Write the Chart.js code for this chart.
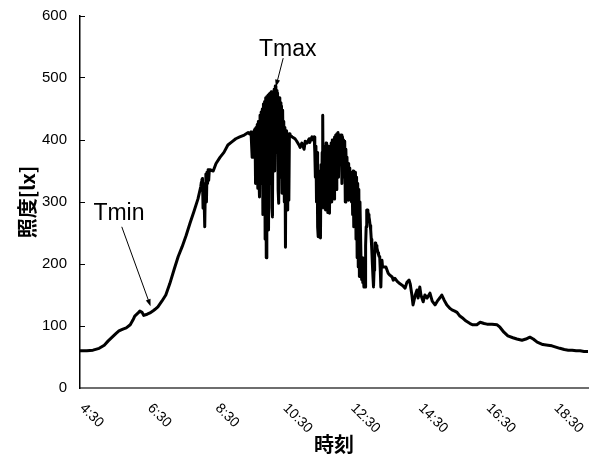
<!DOCTYPE html>
<html><head><meta charset="utf-8">
<script src="https://cdn.jsdelivr.net/npm/chart.js@4"></script>
<style>html,body{margin:0;padding:0;background:#fff}</style>
</head><body>
<canvas id="c" width="593" height="456"></canvas>
<script>
// time of day in minutes since midnight
const times = [
  270,282,293,304,313,320,327,334,339,346,352,359,364,367,373,376,380,383,389,394,399,403,408,415,422,429,437,444,451,458,465,472,479,
  484,485,486,487,488,489,490,491,492,493,494,495,496,497,498,499,500,
  506,511,518,525,532,539,546,553,561,568,570,573,575,576,577,578,579,
  580,581,582,583,584,585,586,587,588,589,
  590,591,592,593,594,595,596,597,598,599,
  600,601,602,603,604,605,606,607,608,609,
  610,611,612,613,614,615,616,617,618,619,
  620,621,622,623,624,625,626,627,628,629,
  630,631,632,633,634,635,636,637,638,639,
  640,641,642,
  646,651,654,658,660,663,667,669,672,676,677,681,683,685,686,
  687,688,689,690,691,692,693,694,695,696,
  697,698,699,700,701,702,703,704,705,706,
  707,708,709,710,711,712,713,714,715,716,
  717,718,719,720,721,722,723,724,725,726,
  727,728,729,730,731,732,733,734,735,736,
  737,738,739,740,741,742,743,744,745,746,
  747,748,749,750,751,752,753,754,755,756,
  757,758,759,760,761,762,763,764,765,766,
  767,768,769,770,771,772,773,774,775,776,
  777,778,779,780,781,782,783,784,785,786,
  787,788,789,790,791,792,793,794,795,796,
  797,798,799,800,801,802,803,804,805,806,
  812,816,819,823,825,828,832,837,842,846,849,853,855,858,860,864,867,869,872,874,
  878,881,885,890,894,899,903,908,911,915,920,926,929,934,938,943,949,954,961,966,
  973,979,986,991,1000,1009,1014,1021,1028,1037,1044,1053,1060,1067,1073,1080,1085,1090,1099,1106,
  1113,1120,1128,1135,1142,1149,1156,1163,1170
];
// illuminance [lx]
const lux = [
  60,60,61,64,69,76,82,88,92,95,97,102,110,116,121,124,122,117,119,121,124,127,131,140,150,168,192,212,228,246,266,285,305,
  325,332,336,338,290,330,300,260,320,345,300,348,330,352,335,350,352,
  350,362,372,380,392,397,402,405,408,412,410,413,372,408,410,414,416,
  418,330,420,360,425,322,430,340,308,440,
  370,445,330,450,280,458,380,462,240,468,
  210,470,350,472,255,474,380,476,330,478,
  290,276,478,400,482,350,487,420,480,380,
  476,320,298,468,380,460,340,455,314,448,
  360,430,300,420,227,415,300,410,287,408,
  303,410,408,
  405,402,398,392,388,395,385,398,395,402,396,405,400,405,380,
  340,390,300,380,260,244,350,260,340,242,
  360,290,380,440,300,390,290,370,287,395,
  300,380,283,390,295,282,385,310,395,300,
  400,330,395,305,405,340,408,320,410,360,
  412,340,408,370,405,360,408,330,405,370,
  400,340,398,300,385,350,372,320,362,303,
  355,350,320,345,300,348,280,350,260,345,
  290,348,240,340,210,330,195,320,180,300,
  250,200,175,210,170,180,163,190,163,230,
  260,287,287,284,280,276,270,262,255,240,
  222,200,180,163,190,215,234,232,230,226,
  222,218,215,212,211,190,163,200,206,195,
  195,185,182,179,174,177,172,168,165,161,170,174,168,150,134,150,158,145,163,150,
  139,150,145,153,140,134,140,146,150,142,134,128,126,124,122,116,112,108,104,102,
  102,106,104,103,103,102,98,90,84,81,79,77,79,82,79,74,72,70,69,68,
  66,64,62,61,61,60,60,59,59
];
const xTicks = [270,390,510,630,750,870,990,1110];
const yTicks = [0,100,200,300,400,500,600];
const xTitle = '時刻';
const yTitle = '照度[lx]';
// annotations: label, text anchor [min, lx], arrow tail, arrow tip
const annLabels = ['Tmax','Tmin'];
const annText = [[638,535],[339,271]];
const annTail = [[630,532],[344,260]];
const annTip = [[617,486],[395,132]];

function fmt(m){ return Math.floor(m/60) + ':' + String(m%60).padStart(2,'0'); }

const overlay = {
  id:'overlay',
  afterDraw(chart){
    const {ctx, chartArea} = chart;
    const xs = chart.scales.x, ys = chart.scales.y;
    ctx.save();
    ctx.fillStyle = '#000';
    ctx.font = '14px "Liberation Sans", Arial, sans-serif';
    ctx.textAlign = 'left'; ctx.textBaseline = 'middle';
    xs.ticks.forEach(t=>{
      const px = xs.getPixelForValue(t.value);
      ctx.save();
      ctx.translate(px+2, chartArea.bottom+18);
      ctx.rotate(Math.PI/4);
      ctx.fillText(fmt(t.value), 0, 0);
      ctx.restore();
    });
    ctx.font = '23px "Liberation Sans", Arial, sans-serif';
    ctx.textAlign = 'center'; ctx.textBaseline = 'alphabetic';
    annLabels.forEach((s,i)=>{
      ctx.fillText(s, xs.getPixelForValue(annText[i][0]), ys.getPixelForValue(annText[i][1]));
      const x0 = xs.getPixelForValue(annTail[i][0]), y0 = ys.getPixelForValue(annTail[i][1]);
      const x1 = xs.getPixelForValue(annTip[i][0]), y1 = ys.getPixelForValue(annTip[i][1]);
      const a = Math.atan2(y1-y0, x1-x0), L = 7, W = 2.5;
      ctx.strokeStyle = '#000'; ctx.lineWidth = 1;
      ctx.beginPath(); ctx.moveTo(x0,y0); ctx.lineTo(x1 - 5*Math.cos(a), y1 - 5*Math.sin(a)); ctx.stroke();
      ctx.beginPath(); ctx.moveTo(x1,y1);
      ctx.lineTo(x1 - L*Math.cos(a) + W*Math.sin(a), y1 - L*Math.sin(a) - W*Math.cos(a));
      ctx.lineTo(x1 - L*Math.cos(a) - W*Math.sin(a), y1 - L*Math.sin(a) + W*Math.cos(a));
      ctx.closePath(); ctx.fill();
    });
    ctx.restore();
  }
};

const titleFont = {family:'"Noto Sans CJK JP", sans-serif', size:20, weight:'bold', lineHeight:1.2};

new Chart(document.getElementById('c'), {
  type:'line',
  data:{datasets:[{
    data: times.map((t,i)=>({x:t, y:lux[i]})),
    borderColor:'#000', borderWidth:3, pointRadius:0, tension:0,
    borderJoinStyle:'round', borderCapStyle:'round', fill:false
  }]},
  options:{
    responsive:false, animation:false, devicePixelRatio:1,
    layout:{autoPadding:false, padding:{top:16, right:5, left:0, bottom:0}},
    plugins:{legend:{display:false}, tooltip:{enabled:false}, title:{display:false}},
    scales:{
      x:{
        type:'linear', min:270, max:1170,
        afterBuildTicks: s=>{ s.ticks = xTicks.map(v=>({value:v})); },
        ticks:{display:false},
        grid:{display:false},
        border:{display:true, color:'#6e6e6e', width:2},
        title:{display:true, text:xTitle, font:titleFont, color:'#000', padding:{top:0, bottom:0}},
        afterFit: s=>{ s.height = 68; s.paddingLeft = 0; s.paddingRight = 0; s.paddingTop = 0; s.paddingBottom = 0; }
      },
      y:{
        min:0, max:600,
        afterBuildTicks: s=>{ s.ticks = yTicks.map(v=>({value:v})); },
        ticks:{font:{family:'"Liberation Sans", Arial, sans-serif', size:15}, color:'#000', padding:18},
        grid:{display:true, drawOnChartArea:false, drawTicks:true, tickLength:-5, color:'#000', lineWidth:1},
        border:{display:true, color:'#000', width:1.5},
        title:{display:true, text:yTitle, font:titleFont, color:'#000', padding:{top:15, bottom:0}},
        afterFit: s=>{ s.width = 80; s.paddingTop = 0; s.paddingBottom = 0; s.paddingLeft = 0; s.paddingRight = 0; }
      }
    }
  },
  plugins:[overlay]
});
</script>
</body></html>
